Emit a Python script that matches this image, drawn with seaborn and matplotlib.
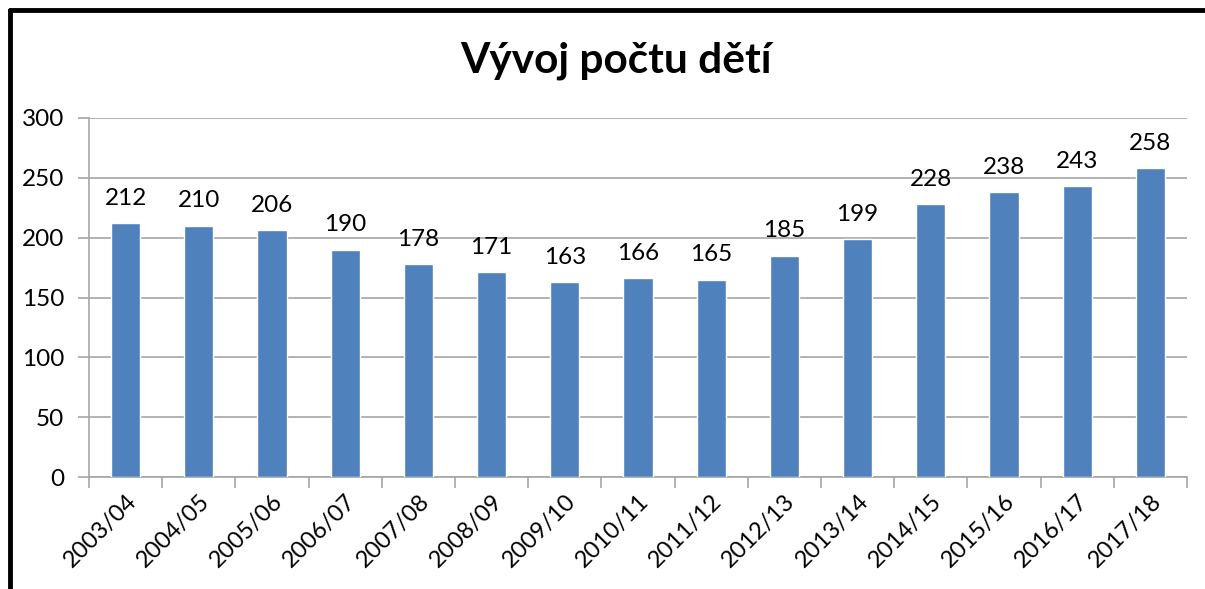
import matplotlib
matplotlib.use("Agg")
import matplotlib.pyplot as plt
import seaborn as sns
import pandas as pd
from matplotlib.lines import Line2D

years = ["2003/04", "2004/05", "2005/06", "2006/07", "2007/08", "2008/09", "2009/10",
         "2010/11", "2011/12", "2012/13", "2013/14", "2014/15", "2015/16", "2016/17", "2017/18"]
children = [212, 210, 206, 190, 178, 171, 163, 166, 165, 185, 199, 228, 238, 243, 258]
title = "Vývoj počtu dětí"

sns.set_theme(style="white")
plt.rcParams['font.family'] = ['Lato', 'DejaVu Sans']

df = pd.DataFrame({"rok": years, "deti": children})

fig = plt.figure(figsize=(12.05, 5.89), dpi=100)
ax = fig.add_axes([89/1205, 1-477/589, (1187-89)/1205, (477-118)/589])

sns.barplot(data=df, x="rok", y="deti", color="#4F81BD", saturation=1, width=0.4, ax=ax, zorder=3)

ax.set_ylim(0, 300)
ax.set_xlim(-0.5, len(years) - 0.5)
ax.set_yticks(range(0, 301, 50))
ax.yaxis.grid(True, color="#A6A6A6", linewidth=1.2, zorder=0)
ax.set_axisbelow(True)
for s in ["top", "right"]:
    ax.spines[s].set_visible(False)
for s in ["left", "bottom"]:
    ax.spines[s].set_color("#A6A6A6")
    ax.spines[s].set_linewidth(1.2)

ax.set_xlabel("")
ax.set_ylabel("")

ax.tick_params(axis="y", which="major", direction="out", length=8, width=1.2, color="#A6A6A6",
               labelsize=17.5, labelcolor="#000000", pad=10, left=True)
ax.set_xticks(range(len(years)))
ax.set_xticklabels(years, rotation=45, ha="right", rotation_mode="anchor", fontsize=17)
ax.tick_params(axis="x", which="major", length=0, pad=10, labelcolor="#000000")
ax.set_xticks([i - 0.5 for i in range(len(years) + 1)], minor=True)
ax.tick_params(axis="x", which="minor", direction="out", length=8, width=1.2, color="#A6A6A6", bottom=True)

for i, v in enumerate(children):
    ax.text(i, v + 12, str(v), ha="center", va="bottom", fontsize=17.5, color="#000000")

fig.text(0.511, 1 - 61/589, title, ha="center", va="center", fontsize=30.5, fontweight="bold", color="#000000")

fig.add_artist(Line2D([10/1205, 1.0], [1 - 10/589, 1 - 10/589], color="black", linewidth=3.5, transform=fig.transFigure))
fig.add_artist(Line2D([10/1205, 10/1205], [0.0, 1 - 10/589], color="black", linewidth=3.5, transform=fig.transFigure))

fig.savefig("out.png", dpi=100, facecolor="white")
